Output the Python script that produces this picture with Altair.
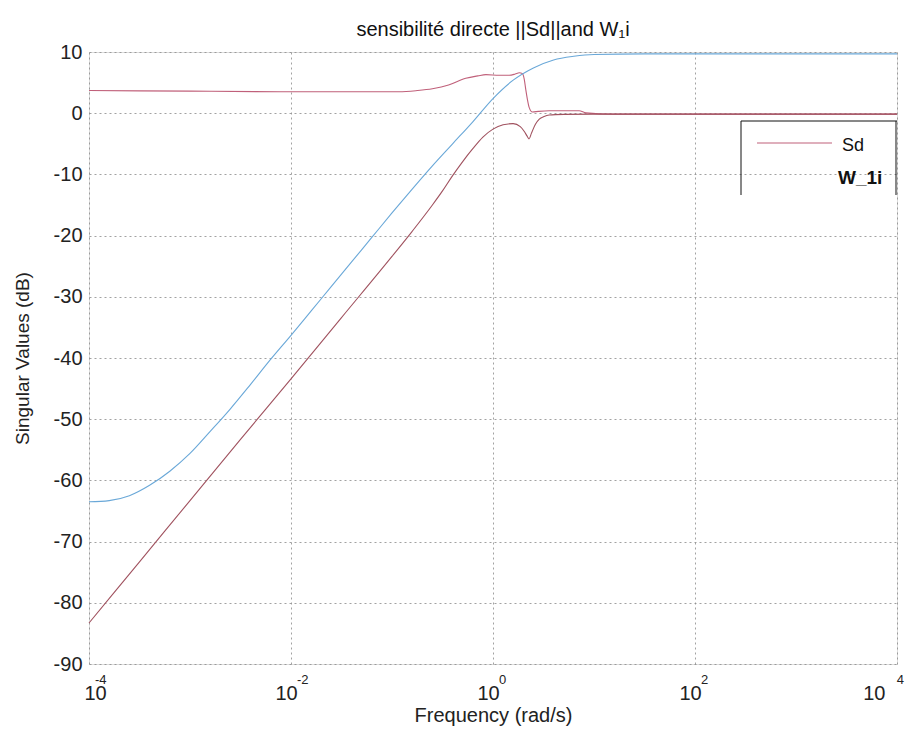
import altair as alt
import pandas as pd

FONT = "Liberation Sans"

# ---- data (x = log10 of frequency in rad/s, y = dB) ----
w_logf = [-4.0, -3.8, -3.6, -3.4, -3.2, -3.0, -2.8, -2.6, -2.4, -2.2, -2.0, -1.8, -1.6,
          -1.4, -1.2, -1.0, -0.8, -0.6, -0.4, -0.2, 0.0, 0.2, 0.4, 0.6, 0.8, 1.0, 1.5,
          2.0, 3.0, 4.0]
w_db = [-63.5, -63.3, -62.5, -60.8, -58.5, -55.6, -52.0, -48.3, -44.3, -40.2, -36.3,
        -32.3, -28.3, -24.3, -20.3, -16.3, -12.4, -8.6, -5.0, -1.4, 2.4, 5.4, 7.4, 8.7,
        9.3, 9.6, 9.7, 9.7, 9.7, 9.7]

sd_max_logf = [-4.0, -3.0, -2.0, -1.2, -0.93, -0.75, -0.6, -0.44, -0.27, -0.15, -0.07,
               0.06, 0.16, 0.22, 0.26, 0.29, 0.31, 0.325, 0.34, 0.357, 0.39, 0.45, 0.556,
               0.853, 0.92, 1.185, 2.0, 3.0, 4.0]
sd_max_db = [3.7, 3.6, 3.5, 3.5, 3.5, 3.7, 4.0, 4.6, 5.7, 6.1, 6.3, 6.2, 6.2, 6.4, 6.6,
             6.5, 5.5, 3.8, 2.3, 1.0, 0.2, 0.3, 0.4, 0.4, 0.05, -0.15, -0.15, -0.15, -0.15]

sd_min_logf = [-4.0, -3.5, -3.0, -2.5, -2.0, -1.5, -1.0, -0.8, -0.6, -0.5, -0.4, -0.3,
               -0.2, -0.1, 0.0, 0.1, 0.2, 0.27, 0.31, 0.34, 0.357, 0.38, 0.42, 0.456, 0.5,
               0.556, 0.7, 1.0, 2.0, 3.0, 4.0]
sd_min_db = [-83.3, -73.3, -63.3, -53.3, -43.4, -33.4, -23.4, -19.3, -15.0, -12.7, -10.2,
             -7.9, -5.8, -3.9, -2.6, -1.9, -1.7, -2.2, -3.0, -3.8, -4.2, -3.3, -1.8, -1.0,
             -0.6, -0.3, -0.2, -0.15, -0.15, -0.15, -0.15]

tick_exps = [-4, -2, 0, 2, 4]
y_ticks = list(range(-90, 11, 10))

curve_names = ["Sd_max", "Sd_min", "W_1i"]
curve_colors = ["#c0607a", "#a0525f", "#6aa8d8"]

rows = []
for name, lf, db in [("Sd_max", sd_max_logf, sd_max_db),
                     ("Sd_min", sd_min_logf, sd_min_db),
                     ("W_1i", w_logf, w_db)]:
    for i, (a, b) in enumerate(zip(lf, db)):
        rows.append({"curve": name, "order": i, "freq": 10 ** a, "db": b})
df = pd.DataFrame(rows)

ticks_df = pd.DataFrame({"freq": [10.0 ** e for e in tick_exps],
                         "exp": [str(e) for e in tick_exps]})

W, H = 808, 612

x_enc = alt.X(
    "freq:Q",
    scale=alt.Scale(type="log", domain=[1e-4, 1e4]),
    axis=alt.Axis(
        values=[10.0 ** e for e in tick_exps],
        labelExpr="'10'",
        title="Frequency (rad/s)",
        labelFontSize=20, labelFont=FONT, labelColor="#222",
        labelPadding=19,
        labelOffset={"condition": {"test": "datum.value >= 10000", "value": -12},
                     "value": -5},
        titleFontSize=20, titleFont=FONT, titleFontWeight="normal", titleColor="#222",
        titlePadding=2,
        ticks=False, domain=False,
        grid=True, gridColor="#8a8a8a", gridDash=[2, 3], gridWidth=0.8,
    ),
)
y_enc = alt.Y(
    "db:Q",
    scale=alt.Scale(domain=[-90, 10], nice=False),
    axis=alt.Axis(
        values=y_ticks,
        labelExpr="'' + datum.value",
        title="Singular Values (dB)",
        labelFontSize=20, labelFont=FONT, labelColor="#222",
        labelPadding=7,
        titleFontSize=19, titleFont=FONT, titleFontWeight="normal", titleColor="#222",
        titlePadding=21,
        ticks=False, domain=False,
        grid=True, gridColor="#8a8a8a", gridDash=[2, 3], gridWidth=0.8,
    ),
)

lines = alt.Chart(df).mark_line(strokeWidth=1.1, interpolate="monotone").encode(
    x=x_enc,
    y=y_enc,
    color=alt.Color("curve:N", scale=alt.Scale(domain=curve_names, range=curve_colors),
                    legend=None),
    order="order:Q",
)

exps_main = alt.Chart(ticks_df).transform_filter("datum.freq < 10000").mark_text(
    align="left", baseline="alphabetic", dx=6, fontSize=13, font=FONT, color="#222"
).encode(x=x_enc, y=alt.value(H + 20), text="exp:N")
exps_last = alt.Chart(ticks_df).transform_filter("datum.freq >= 10000").mark_text(
    align="right", baseline="alphabetic", dx=7, fontSize=13, font=FONT, color="#222"
).encode(x=x_enc, y=alt.value(H + 20), text="exp:N")

one = pd.DataFrame({"k": [0]})
box_top = alt.Chart(one).mark_rule(color="#111", strokeWidth=1).encode(
    x=alt.value(652), x2=alt.value(W), y=alt.value(69))
box_left = alt.Chart(one).mark_rule(color="#111", strokeWidth=1).encode(
    x=alt.value(652), y=alt.value(69), y2=alt.value(143))
box_right = alt.Chart(one).mark_rule(color="#111", strokeWidth=1).encode(
    x=alt.value(W - 1), y=alt.value(69), y2=alt.value(143))
leg_line = alt.Chart(one).mark_rule(color=curve_colors[0], strokeWidth=1.1).encode(
    x=alt.value(668), x2=alt.value(743), y=alt.value(91))
leg_sd = alt.Chart(one).mark_text(
    text="Sd", align="left", baseline="middle", fontSize=18, font=FONT, color="#111"
).encode(x=alt.value(753), y=alt.value(94))
leg_w = alt.Chart(one).mark_text(
    text="W_1i", align="left", baseline="middle", fontSize=19, font=FONT,
    fontWeight="bold", color="#111"
).encode(x=alt.value(749), y=alt.value(126))

chart = alt.layer(
    lines, exps_main, exps_last, box_top, box_left, box_right, leg_line, leg_sd, leg_w
).properties(
    width=W, height=H,
    title=alt.TitleParams(
        "sensibilité directe ||Sd||and W\u2081i",
        fontSize=20, font=FONT, fontWeight="normal", color="#111",
        anchor="middle", offset=2,
    ),
    autosize=alt.AutoSizeParams(type="none"),
    padding={"left": 81, "top": 44, "right": 8, "bottom": 62},
).configure_view(
    stroke="#9a9a9a", strokeWidth=1
).configure(background="white")

chart.save("out.html", embed_options={"renderer": "svg", "actions": False})
